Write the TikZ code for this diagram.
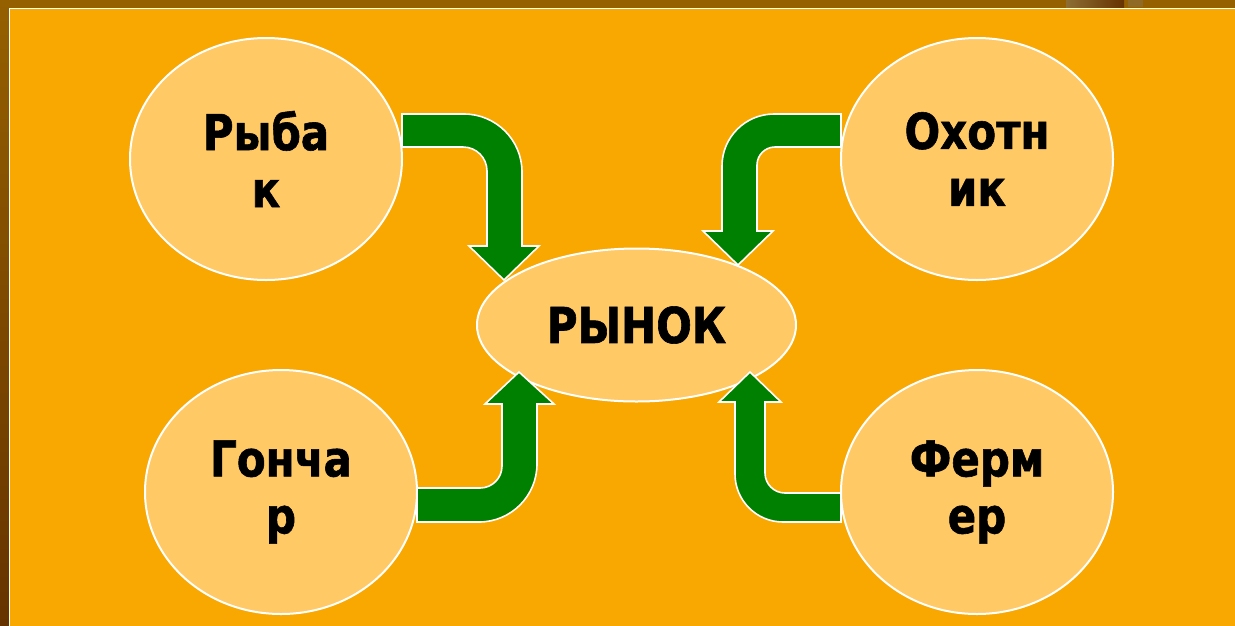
\documentclass[tikz,border=0pt]{standalone}
\usepackage{fontspec}
\newfontfamily\lbl{DejaVu Sans}[FakeStretch=0.85,FakeBold=1.2]
\usetikzlibrary{shapes.geometric}
\definecolor{bgbrown}{HTML}{956000}
\definecolor{darkbrown}{HTML}{663300}
\definecolor{bgorange}{HTML}{F8A800}
\definecolor{ellfill}{HTML}{FFC965}
\definecolor{arrgreen}{HTML}{008000}
\tikzset{
  blob/.style={ellipse, fill=ellfill, draw=white, line width=2pt, inner sep=0pt,
    font=\lbl\bfseries\fontsize{49.4}{57}\selectfont, align=center, text=black},
  bentarrow/.style={fill=arrgreen, draw=white, line width=1.6pt, line join=miter}
}
\begin{document}
\begin{tikzpicture}[x=1pt,y=-1pt]
\useasboundingbox (0,0) rectangle (1235,625);
% background
\fill[bgbrown] (0,0) rectangle (1235,625);
\shade[top color=bgbrown, bottom color=darkbrown] (0,0) rectangle (9,625);
\shade[left color=bgbrown!60!gray, right color=darkbrown] (1066,0) rectangle (1124,7);
\fill[bgbrown!70!gray] (1128,0) rectangle (1143,7);
\begin{scope}
\clip (0,0) rectangle (1235,625);
\filldraw[fill=bgorange, draw=white, line width=1.5pt] (9.5,8.5) rectangle (1245,640);
\end{scope}
% ellipses
\node[blob, minimum width=272pt, minimum height=242pt] (fisher) at (266,159) {Рыба\\к};
\node[blob, minimum width=272pt, minimum height=242pt] (hunter) at (977,159) {Охотн\\ик};
\node[blob, minimum width=272pt, minimum height=244pt] (potter) at (281,492) {Гонча\\р};
\node[blob, minimum width=272pt, minimum height=244pt] (farmer) at (977,492) {Ферм\\ер};
\node[blob, minimum width=319pt, minimum height=153pt] (market) at (636.5,325) {РЫНОК};
% arrows
\draw[bentarrow] (402,114) -- (464,114) .. controls (496,114) and (522,140) .. (522,172)
  -- (522,246) -- (539,246) -- (504,280) -- (469,246) -- (487,246) -- (487,171)
  .. controls (487,157.7) and (476.3,147) .. (463,147) -- (402,147) -- cycle;
\draw[bentarrow] (841,114) -- (774,114) .. controls (745.3,114) and (722,137.3) .. (722,166)
  -- (722,231) -- (703,231) -- (738,265) -- (773,231) -- (757,231) -- (757,165)
  .. controls (757,155.1) and (765.1,147) .. (775,147) -- (841,147) -- cycle;
\draw[bentarrow] (417,488) -- (480,488) .. controls (492.2,488) and (502,478.2) .. (502,466)
  -- (502,404) -- (485,404) -- (519,372) -- (554,404) -- (537,404) -- (537,464)
  .. controls (537,496) and (511,522) .. (479,522) -- (417,522) -- cycle;
\draw[bentarrow] (841,493) -- (785,493) .. controls (774,493) and (765,484) .. (765,473)
  -- (765,402) -- (781,402) -- (750,372) -- (719,402) -- (735,402) -- (735,474)
  .. controls (735,500.5) and (756.5,522) .. (783,522) -- (841,522) -- cycle;
\end{tikzpicture}
\end{document}
